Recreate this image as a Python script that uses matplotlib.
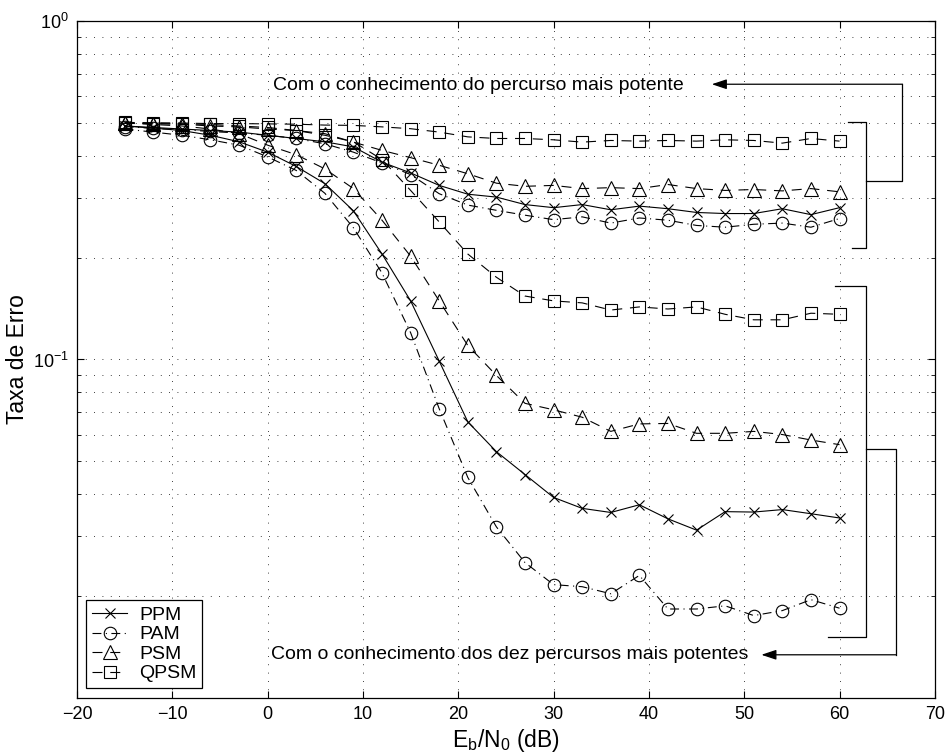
import numpy as np
import matplotlib
matplotlib.use("Agg")
import matplotlib.pyplot as plt
from matplotlib.ticker import FixedLocator, LogLocator, NullFormatter

plt.rcParams['font.family'] = ['Liberation Sans', 'DejaVu Sans']
plt.rcParams['mathtext.fontset'] = 'custom'
plt.rcParams['mathtext.rm'] = 'Liberation Sans'
plt.rcParams['mathtext.it'] = 'Liberation Sans'

# Eb/N0 (dB)
ebn0 = np.arange(-15, 61, 3)

# Knowledge of the strongest path only
ppm_1 = [0.490, 0.485, 0.480, 0.475, 0.470, 0.460, 0.450, 0.440, 0.425, 0.383, 0.356, 0.327, 0.308,
         0.302, 0.287, 0.281, 0.287, 0.277, 0.284, 0.279, 0.272, 0.270, 0.270, 0.279, 0.268, 0.281]
pam_1 = [0.488, 0.482, 0.478, 0.472, 0.467, 0.460, 0.450, 0.434, 0.410, 0.381, 0.352, 0.309, 0.286,
         0.276, 0.267, 0.259, 0.264, 0.253, 0.262, 0.258, 0.249, 0.246, 0.251, 0.253, 0.246, 0.261]
psm_1 = [0.500, 0.498, 0.496, 0.490, 0.487, 0.480, 0.475, 0.465, 0.439, 0.415, 0.395, 0.375, 0.354,
         0.332, 0.325, 0.327, 0.320, 0.322, 0.320, 0.329, 0.320, 0.316, 0.318, 0.315, 0.320, 0.313]
qpsm_1 = [0.502, 0.501, 0.500, 0.498, 0.498, 0.497, 0.496, 0.493, 0.492, 0.487, 0.481, 0.470, 0.455,
          0.450, 0.450, 0.446, 0.439, 0.444, 0.442, 0.444, 0.442, 0.446, 0.444, 0.436, 0.450, 0.442]

# Knowledge of the ten strongest paths
ppm_10 = [0.490, 0.483, 0.475, 0.460, 0.440, 0.410, 0.372, 0.331, 0.275, 0.205, 0.149, 0.0989, 0.0654,
          0.0534, 0.0457, 0.0391, 0.0363, 0.0353, 0.0372, 0.0338, 0.0313, 0.0355, 0.0354, 0.0360, 0.0350, 0.0340]
pam_10 = [0.480, 0.470, 0.460, 0.446, 0.430, 0.397, 0.362, 0.310, 0.245, 0.180, 0.120, 0.0715, 0.0448,
          0.0320, 0.0251, 0.0216, 0.0213, 0.0203, 0.0230, 0.0183, 0.0183, 0.0187, 0.0175, 0.0181, 0.0195, 0.0184]
psm_10 = [0.500, 0.495, 0.490, 0.480, 0.465, 0.430, 0.403, 0.366, 0.320, 0.258, 0.202, 0.149, 0.110,
          0.0897, 0.0742, 0.0710, 0.0675, 0.0613, 0.0645, 0.0647, 0.0605, 0.0605, 0.0613, 0.0600, 0.0578, 0.0560]
qpsm_10 = [0.500, 0.498, 0.497, 0.495, 0.490, 0.485, 0.475, 0.460, 0.440, 0.390, 0.316, 0.255, 0.205,
           0.175, 0.154, 0.149, 0.147, 0.140, 0.143, 0.141, 0.143, 0.136, 0.131, 0.131, 0.137, 0.136]

labels = ['PPM', 'PAM', 'PSM', 'QPSM']

fig = plt.figure(figsize=(9.51, 7.56), dpi=100)
ax = fig.add_axes([0.081, 0.077, 0.902, 0.895])

lw = 0.8
styles = {
    'PPM': dict(linestyle='-', marker='x', markersize=6.5),
    'PAM': dict(linestyle=(0, (8, 4, 1, 4)), marker='o', markersize=9),
    'PSM': dict(linestyle=(0, (9, 7)), marker='^', markersize=10),
    'QPSM': dict(linestyle=(0, (9, 7)), marker='s', markersize=8),
}
series = [('PPM', ppm_1, ppm_10), ('PAM', pam_1, pam_10),
          ('PSM', psm_1, psm_10), ('QPSM', qpsm_1, qpsm_10)]

handles = []
for name, s1, s10 in series:
    st = styles[name]
    for i, s in enumerate((s1, s10)):
        h, = ax.plot(ebn0, s, color='black', linewidth=lw, markerfacecolor='none',
                     markeredgecolor='black', markeredgewidth=0.8,
                     label=name if i == 0 else None, **st)
        if i == 0:
            handles.append(h)

ax.set_yscale('log')
ax.set_xlim(-20, 70)
ax.set_ylim(0.01, 1)
ax.set_xticks(np.arange(-20, 71, 10))
ax.yaxis.set_major_locator(FixedLocator([0.1, 1.0]))
ax.yaxis.set_minor_locator(LogLocator(base=10, subs=np.arange(2, 10)))
ax.yaxis.set_minor_formatter(NullFormatter())

grid_ls = (0, (1, 9))
ax.grid(True, which='major', axis='both', linestyle=grid_ls, color='black', linewidth=0.6)
ax.grid(True, which='minor', axis='y', linestyle=grid_ls, color='black', linewidth=0.6)
ax.tick_params(which='both', direction='in', top=True, right=True, labelsize=13)
ax.tick_params(which='major', length=5, pad=6)
ax.tick_params(which='minor', length=3)
for sp in ax.spines.values():
    sp.set_linewidth(0.9)

ax.set_xlabel(r'E$_\mathrm{b}$/N$_\mathrm{0}$ (dB)', fontsize=16.5, labelpad=3)
ax.set_ylabel('Taxa de Erro', fontsize=16.5, labelpad=3)

leg = ax.legend(handles=handles, loc='lower left', bbox_to_anchor=(0.011, 0.014),
                borderaxespad=0, fontsize=14, frameon=True, fancybox=False,
                handlelength=1.8, handletextpad=0.6, labelspacing=0.1,
                borderpad=0.3, edgecolor='black', framealpha=1)
leg.get_frame().set_linewidth(0.9)

# Annotations: strongest path group (upper)
ax.text(0.6, 0.645, 'Com o conhecimento do percurso mais potente', fontsize=14,
        ha='left', va='center')
ax.annotate('', xy=(46.6, 0.651), xytext=(66.6, 0.651),
            arrowprops=dict(arrowstyle='-|>,head_length=0.9,head_width=0.3',
                            color='black', lw=0.9, shrinkA=0, shrinkB=0),
            annotation_clip=False)
ax.plot([66.6, 66.6, 62.75], [0.651, 0.336, 0.336], color='black', lw=0.9, clip_on=False)
ax.plot([60.9, 62.75, 62.75, 61.3], [0.5027, 0.5027, 0.213, 0.213], color='black',
        lw=0.9, clip_on=False)

# Annotations: ten strongest paths group (lower)
ax.text(0.4, 0.0134, 'Com o conhecimento dos dez percursos mais potentes', fontsize=14,
        ha='left', va='center')
ax.annotate('', xy=(51.8, 0.0134), xytext=(65.9, 0.0134),
            arrowprops=dict(arrowstyle='-|>,head_length=0.9,head_width=0.3',
                            color='black', lw=0.9, shrinkA=0, shrinkB=0),
            annotation_clip=False)
ax.plot([62.75, 65.9, 65.9], [0.0545, 0.0545, 0.0134], color='black', lw=0.9, clip_on=False)
ax.plot([59.5, 62.75, 62.75, 58.8], [0.1644, 0.1644, 0.01515, 0.01515], color='black',
        lw=0.9, clip_on=False)

fig.savefig('out.png', dpi=100)
